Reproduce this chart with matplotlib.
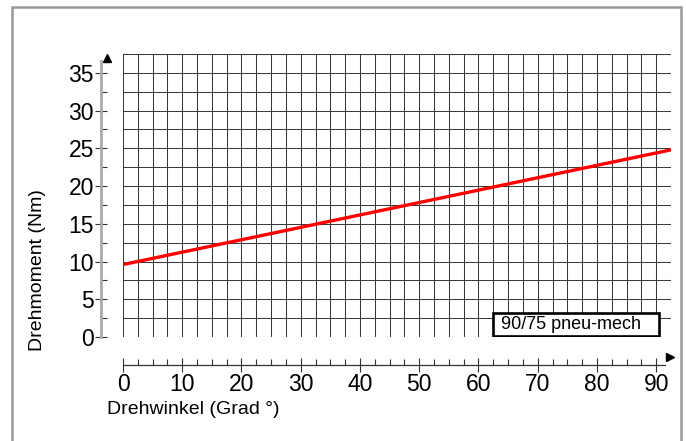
import numpy as np
import matplotlib
matplotlib.use("Agg")
import matplotlib.pyplot as plt
import matplotlib.transforms as mtrans
from matplotlib.patches import Rectangle

# torque curve: angle (deg) vs torque (Nm)
angle = [0, 92.5]
torque = [9.6, 24.8]
series_label = "90/75 pneu-mech"

y_major = [0, 5, 10, 15, 20, 25, 30, 35]
x_major = [0, 10, 20, 30, 40, 50, 60, 70, 80, 90]

plt.rcParams['font.family'] = ['Liberation Sans', 'DejaVu Sans']

W, H = 686, 441
fig = plt.figure(figsize=(W / 100, H / 100), dpi=100)

# outer frame
fig.patches.append(Rectangle((12 / W, -0.05), (681 - 12) / W, 1.05 - 7 / H,
                             transform=fig.transFigure, fill=False,
                             edgecolor='#999999', linewidth=1.8))

ax = fig.add_axes([123 / W, (H - 337) / H, (671 - 123) / W, (337 - 54) / H])
ax.set_xlim(0, 92.5)
ax.set_ylim(0, 37.5)

# paper grid every 2.5 units
for gx in np.arange(0, 92.5 + 0.1, 2.5):
    ax.axvline(gx, color='#3a3a3a', lw=0.75, zorder=1)
for gy in np.arange(0, 37.5 + 0.1, 2.5):
    ax.axhline(gy, color='#3a3a3a', lw=0.75, zorder=1)

ax.plot(angle, torque, color='#ff0000', lw=2.4, solid_capstyle='butt', zorder=3)

# label box
ax.add_patch(Rectangle((62.4, 0.15), 28.0, 3.05, facecolor='white',
                       edgecolor='black', lw=1.9, zorder=4))
ax.text(63.8, 1.7, series_label, fontsize=13, va='center', ha='left', zorder=5)

# detached axes lines
for s in ['top', 'right']:
    ax.spines[s].set_visible(False)
ax.spines['left'].set_position(('outward', 16))
ax.spines['bottom'].set_position(('outward', 20))
ax.spines['left'].set_bounds(0, 36.6)
ax.spines['bottom'].set_bounds(0, 91.5)
ax.spines['left'].set_color('#aaaaaa')
ax.spines['left'].set_linewidth(2.0)
ax.spines['bottom'].set_color('#333333')
ax.spines['bottom'].set_linewidth(0.9)

ax.set_yticks(y_major)
ax.set_yticks(np.arange(2.5, 37.5, 5), minor=True)
ax.set_xticks(x_major)
ax.set_xticks(np.arange(2.5, 92.5, 2.5), minor=True)
ax.tick_params(axis='y', which='major', direction='inout', length=8, width=0.8,
               color='#333333', labelsize=16.5, pad=1)
ax.tick_params(axis='y', which='minor', direction='in', length=4.5, width=0.8,
               color='#333333')
ax.tick_params(axis='x', which='major', direction='inout', length=10, width=0.8,
               color='#333333', labelsize=16.5, pad=1)
ax.tick_params(axis='x', which='minor', direction='in', length=4, width=0.8,
               color='#333333')

# arrow heads
yshift = mtrans.ScaledTranslation(-16 / 100, 0, fig.dpi_scale_trans)
xshift = mtrans.ScaledTranslation(0, -20 / 100, fig.dpi_scale_trans)
ax.plot([0], [37.0], marker='^', color='black', markersize=5.5, clip_on=False,
        transform=ax.get_yaxis_transform() + yshift)
ax.plot([92.3], [0], marker='>', color='black', markersize=5.5, clip_on=False,
        transform=ax.get_xaxis_transform() + xshift)

fig.text(38 / W, 1 - 270 / H, "Drehmoment (Nm)", rotation=90, fontsize=14,
         ha='center', va='center')
fig.text(193 / W, 1 - 410 / H, "Drehwinkel (Grad °)", fontsize=14,
         ha='center', va='center')

fig.savefig('out.png', dpi=100)
